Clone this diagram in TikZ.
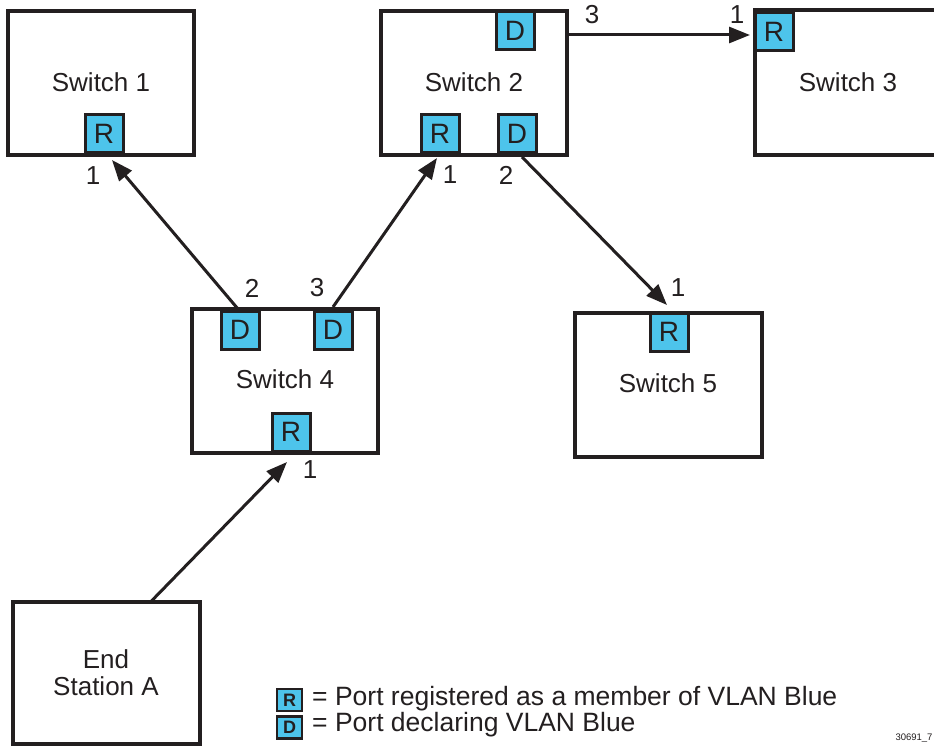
\documentclass[tikz,border=0pt]{standalone}
\usepackage{fontspec}
\setmainfont{Liberation Sans}
\usetikzlibrary{arrows.meta,calc}
\definecolor{portblue}{HTML}{4DC4EB}
\definecolor{ink}{HTML}{231F20}
\begin{document}
\begin{tikzpicture}[x=1pt,y=-1pt,
  box/.style={draw=ink, line width=4pt, fill=white, rectangle, inner sep=0pt, outer sep=0pt},
  port/.style={draw=ink, line width=3pt, fill=portblue, rectangle, minimum size=38pt, inner sep=0pt, outer sep=0pt, font=\fontsize{28}{30}\selectfont, text=ink},
  lport/.style={draw=ink, line width=2.5pt, fill=portblue, rectangle, minimum width=25pt, minimum height=22pt, inner sep=0pt, outer sep=0pt, font=\fontsize{18}{20}\selectfont\bfseries, text=ink},
  lbl/.style={font=\fontsize{26}{30}\selectfont, text=ink, inner sep=0pt},
  legtxt/.style={font=\fontsize{26.5}{28}\selectfont, text=ink, inner sep=0pt, anchor=west},
  link/.style={draw=ink, line width=3pt, -{Triangle[length=21pt,width=16pt]}}]
\clip (0,0) rectangle (934,746);
\fill[white] (0,0) rectangle (934,746);

% switch boxes
\node[box, minimum width=186pt, minimum height=144pt] (s1) at (101,83) {};
\node[box, minimum width=186pt, minimum height=144pt] (s2) at (474,83) {};
\node[box, minimum width=210pt, minimum height=145pt] (s3) at (860,82.5) {};
\node[box, minimum width=186pt, minimum height=144pt] (s4) at (285,381) {};
\node[box, minimum width=187pt, minimum height=144pt] (s5) at (668.5,385) {};
\node[box, minimum width=187pt, minimum height=142pt] (es) at (106.5,673) {};

% box texts
\node[lbl] (t1) at (101,82) {Switch 1};
\node[lbl] (t2) at (474,82) {Switch 2};
\node[lbl] (t3) at (848,82) {Switch 3};
\node[lbl] (t4) at (285,379) {Switch 4};
\node[lbl] (t5) at (668,383) {Switch 5};
\node[lbl, align=center] (tes) at (106,673) {End\\[-3pt]Station A};

% ports
\node[port] (p1) at (104,134) {R};
\node[port] (p2t) at (515,31) {D};
\node[port] (p2R) at (440,134) {R};
\node[port] (p2D) at (517,134) {D};
\node[port] (p3R) at (774,32) {R};
\node[port] (p4a) at (240,330) {D};
\node[port] (p4b) at (333,330) {D};
\node[port] (p4R) at (291,432) {R};
\node[port] (p5R) at (669,332) {R};

% connectors
\draw[link] ($(p4a.north)+(-2,-2)$) -- ($(p1.south)+(8,7)$);
\draw[link] ($(p4b.north)+(0,-4)$) -- ($(p2R.south)+(-3,5)$);
\draw[link] ($(p2D.south)+(5,4)$) -- ($(p5R.north)+(-2,-8)$);
\draw[link] ($(s2.north east)+(2,24)$) -- ($(p3R.west)+(-5,3)$);
\draw[link] ($(es.north)+(44,0)$) -- ($(p4R.south)+(-4,11)$);

% port numbers
\node[lbl] (n11) at (93,176) {1};
\node[lbl] (n21) at (450,175) {1};
\node[lbl] (n22) at (506,175) {2};
\node[lbl] (n23) at (592,15) {3};
\node[lbl] (n31) at (737,15) {1};
\node[lbl] (n42) at (252,288) {2};
\node[lbl] (n43) at (317,288) {3};
\node[lbl] (n41) at (310,470) {1};
\node[lbl] (n51) at (678,288) {1};

% legend
\node[lport] (lr) at (289.5,700) {R};
\node[lport] (ld) at (289.5,727.5) {D};
\node[legtxt] (lrt) at (312,699) {= Port registered as a member of VLAN Blue};
\node[legtxt] (ldt) at (312,725) {= Port declaring VLAN Blue};

\node[font=\fontsize{9.5}{10}\selectfont, text=ink, inner sep=0pt] (fig) at (914,738) {30691\_7};
\end{tikzpicture}
\end{document}
